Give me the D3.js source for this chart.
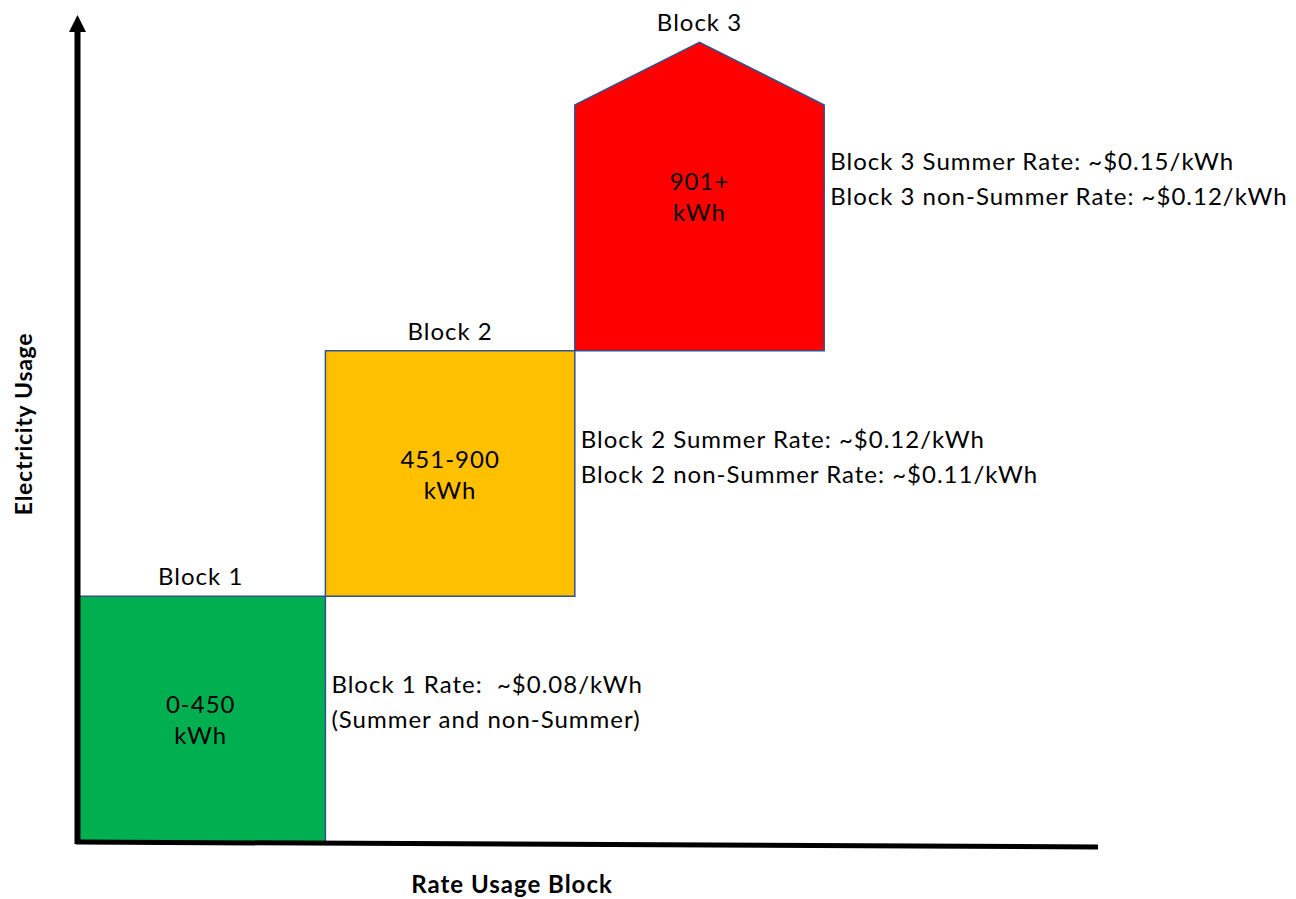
<!DOCTYPE html>
<html><head><meta charset="utf-8">
<script src="https://cdn.jsdelivr.net/npm/d3@7"></script>
<style>
html,body{margin:0;padding:0;background:#fff;}
svg text{font-family:Lato,"Open Sans",sans-serif;fill:#000;white-space:pre;}
</style></head>
<body><svg id="c" width="1296" height="899"></svg>
<script>
// ---- data ----
const blocks = ["Block 1", "Block 2", "Block 3"];
const rangeLow = [0, 451, 901];
const rangeHigh = [450, 900, 1350];
const rangeLabels = [["0-450", "kWh"], ["451-900", "kWh"], ["901+", "kWh"]];
const rateLabels = [
  ["Block 1 Rate:  ~$0.08/kWh", "(Summer and non-Summer)"],
  ["Block 2 Summer Rate: ~$0.12/kWh", "Block 2 non-Summer Rate: ~$0.11/kWh"],
  ["Block 3 Summer Rate: ~$0.15/kWh", "Block 3 non-Summer Rate: ~$0.12/kWh"]
];
const colors = ["#00B050", "#FFC000", "#FF0000"];
const roofExtra = 115; // kWh-equivalent height of the open-ended roof on block 3
const xTitle = "Rate Usage Block";
const yTitle = "Electricity Usage";

// ---- layout ----
const svg = d3.select("#c");
const x = d3.scaleBand().domain(blocks.concat(["_a","_b"])).range([76, 1323]).paddingInner(0);
const y = d3.scaleLinear().domain([0, 1350]).range([842, 105]);
const bw = x.bandwidth();
const FS = 24, LS = 1;

blocks.forEach((b, i) => {
  const x0 = x(b), x1 = x0 + bw;
  const yb = y(rangeLow[i] === 0 ? 0 : rangeLow[i] - 1), yt = y(rangeHigh[i]);
  const last = i === blocks.length - 1;
  const ytop = last ? y(rangeHigh[i] + roofExtra) : yt;
  const pts = last
    ? [[x0, yb], [x0, yt], [(x0 + x1) / 2, ytop], [x1, yt], [x1, yb]]
    : [[x0, yb], [x0, yt], [x1, yt], [x1, yb]];
  svg.append("path")
    .attr("d", d3.line()(pts) + "Z")
    .attr("fill", colors[i])
    .attr("stroke", "#2F528F")
    .attr("stroke-width", 1.5);

  const cx = (x0 + x1) / 2;
  const cy = (yb + ytop) / 2;
  svg.append("text").attr("x", cx).attr("y", ytop - 11)
    .attr("text-anchor", "middle").attr("font-size", FS).attr("letter-spacing", LS).text(b);

  rangeLabels[i].forEach((t, k) => {
    svg.append("text").attr("x", cx).attr("y", cy - 6 + k * 31)
      .attr("text-anchor", "middle").attr("font-size", FS).attr("letter-spacing", LS).text(t);
  });

  rateLabels[i].forEach((t, k) => {
    svg.append("text").attr("x", x1 + 6).attr("y", cy - 26 + k * 35)
      .attr("font-size", FS).attr("letter-spacing", LS).text(t);
  });
});

// axes
svg.append("line").attr("x1", 76).attr("y1", 842).attr("x2", 1098).attr("y2", 847)
  .attr("stroke", "#000").attr("stroke-width", 5);
svg.append("line").attr("x1", 77.5).attr("y1", 844).attr("x2", 77.5).attr("y2", 30)
  .attr("stroke", "#000").attr("stroke-width", 6);
svg.append("path").attr("d", "M69,32 L77.5,15 L86,32 Z").attr("fill", "#000");

svg.append("text").attr("x", 512).attr("y", 893).attr("text-anchor", "middle")
  .attr("font-size", 24).attr("letter-spacing", 1).attr("font-weight", "bold").text(xTitle);
svg.append("text").attr("transform", "translate(32,424) rotate(-90)").attr("text-anchor", "middle")
  .attr("font-size", 23).attr("letter-spacing", 0.7).attr("font-weight", "bold").text(yTitle);
</script></body></html>
